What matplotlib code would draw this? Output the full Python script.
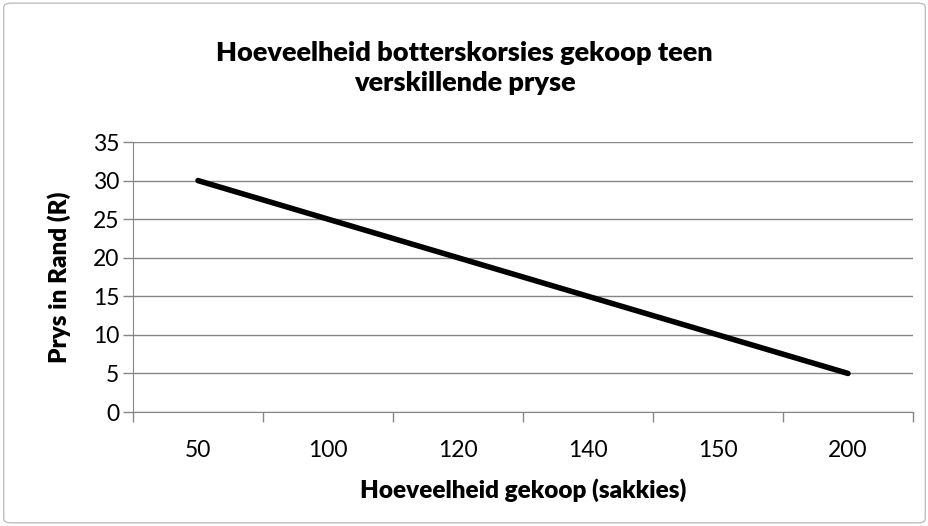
import matplotlib
matplotlib.use('Agg')
import matplotlib.pyplot as plt
from matplotlib.patches import FancyBboxPatch
import numpy as np

plt.rcParams['font.family'] = ['Lato', 'DejaVu Sans']

sakkies = ['50', '100', '120', '140', '150', '200']
prys = [30, 25, 20, 15, 10, 5]

fig = plt.figure(figsize=(9.29, 5.26), dpi=100)
ax = fig.add_axes([0.1432, 0.2167, 0.9828 - 0.1432, 0.730 - 0.2167])

# outer chart border
border = FancyBboxPatch((0.004, 0.006), 0.992, 0.988, boxstyle='round,pad=0,rounding_size=0.008',
                        transform=fig.transFigure, fill=False, edgecolor='#bfbfbf', linewidth=1)
fig.patches.append(border)

x = np.arange(len(sakkies))
ax.plot(x, prys, color='black', linewidth=4, solid_capstyle='round')

ax.set_xlim(-0.5, len(sakkies) - 0.5)
ax.set_ylim(0, 35)
ax.set_yticks(range(0, 36, 5))
ax.set_xticks(x)
ax.set_xticklabels(sakkies)
ax.set_xticks(np.arange(-0.5, len(sakkies), 1), minor=True)
ax.tick_params(axis='x', which='major', length=0, pad=20, labelsize=16.5)
ax.tick_params(axis='x', which='minor', length=7, color='#868686', width=1)
ax.tick_params(axis='y', length=7, color='#868686', width=1, labelsize=16.5, pad=3)

ax.grid(axis='y', color='#868686', linewidth=1)
ax.set_axisbelow(True)
for s in ['top', 'right']:
    ax.spines[s].set_visible(False)
ax.spines['left'].set_color('#868686')
ax.spines['bottom'].set_color('#868686')

fig.text(0.0635, 0.473, 'Prys in Rand (R)', rotation=90, ha='center', va='center',
         fontsize=17.5, fontweight='heavy')
fig.text(0.5632, 0.068, 'Hoeveelheid gekoop (sakkies)', ha='center', va='center',
         fontsize=17.5, fontweight='heavy')
fig.text(0.5, 0.871, 'Hoeveelheid botterskorsies gekoop teen\nverskillende pryse',
         ha='center', va='center', fontsize=19.5, fontweight='heavy', linespacing=1.3)

fig.savefig('out.png', dpi=100)
